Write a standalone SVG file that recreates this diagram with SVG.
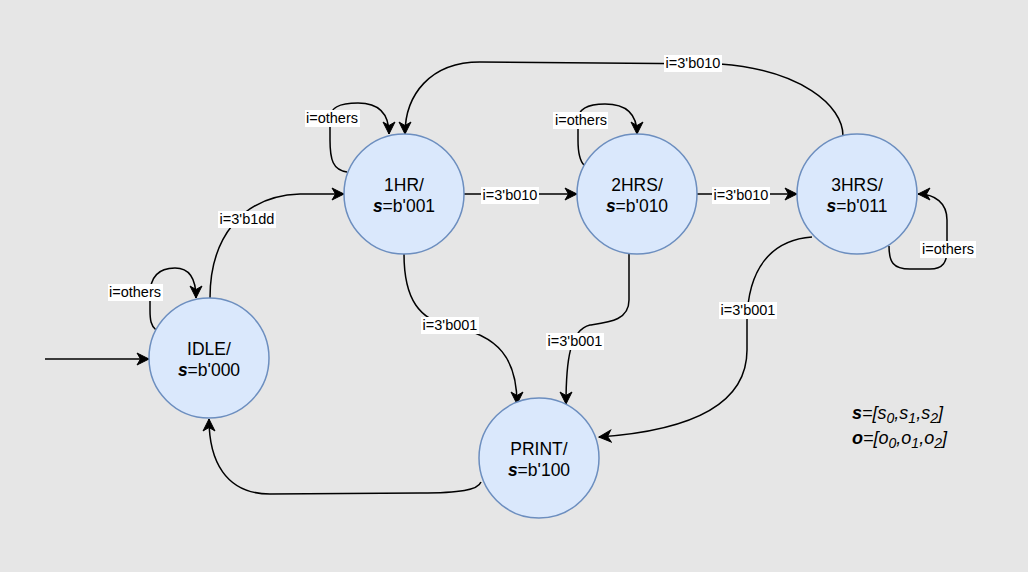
<svg xmlns="http://www.w3.org/2000/svg" width="1028" height="572" viewBox="0 0 1028 572">
<style>
.bg{fill:#e6e6e6}
.st circle{fill:#dae8fc;stroke:#6c8ebf;stroke-width:1.5}
.st text{font-family:"Liberation Sans",Arial,sans-serif;font-size:17.5px;fill:#000;text-anchor:middle}
.bi{font-weight:bold;font-style:italic}
.e{fill:none;stroke:#000;stroke-width:1.5}
.ea{marker-end:url(#arr)}
.lb rect{fill:#fff}
.lb text{font-family:"Liberation Sans",Arial,sans-serif;font-size:14.5px;fill:#000;text-anchor:middle}
.lg{font-family:"Liberation Sans",Arial,sans-serif;font-size:18px;font-style:italic;fill:#000}
.sub{font-size:14px}
</style>
<defs>
<marker id="arr" markerUnits="userSpaceOnUse" markerWidth="14" markerHeight="14" viewBox="0 0 14 14" refX="13" refY="7" orient="auto">
<path d="M1,1 L13,7 L1,13 L4.5,7 Z" fill="#000" stroke="#000" stroke-width="1"/>
</marker>
</defs>
<rect class="bg" x="0" y="0" width="1028" height="572"/>
<g id="connectors">
<path class="e ea" d="M45,359 L149,359"/>
<path class="e ea" d="M464,194 L577,194"/>
<path class="e ea" d="M697,194 L797,194"/>
<path class="e ea" d="M843,136 C843,105 800,70 720,64 L480,62 C430,62 405,95 405,134"/>
<path class="e ea" d="M347,172 C333,170 330,160 330,140 L330,118 C330,108 338,103 358,103 C378,103 389,112 389,134"/>
<path class="e ea" d="M584,165 C579,160 578,150 578,140 L578,120 C578,110 585,104 605,104 C628,104 637,115 637,134"/>
<path class="e ea" d="M889,246 C889,262 893,269 910,269 L930,269 C943,269 947,262 947,250 L947,220 C947,203 935,194 918,194"/>
<path class="e ea" d="M156,330 C151,326 150,320 150,310 L150,295 C150,277 158,268 175,268 C190,268 196,280 196,298"/>
<path class="e ea" d="M210,298 C210,240 240,196 300,194 L344,194"/>
<path class="e ea" d="M404,254 C404,300 420,320 450,326 C500,335 517,360 517,404"/>
<path class="e ea" d="M629,254 L629,300 C629,320 610,322 590,325 C570,330 566,360 566,404"/>
<path class="e ea" d="M812,237 C770,240 748,270 747,320 L747,350 C747,400 700,430 599,437"/>
<path class="e ea" d="M481,482 C478,490 460,493 420,493 L270,494 C225,494 209,460 209,419"/>
</g>
<g id="labels" class="lb">
<rect x="481" y="187" width="58" height="17"/><text x="510" y="200">i=3'b010</text>
<rect x="712" y="187" width="58" height="17"/><text x="741" y="200">i=3'b010</text>
<rect x="664" y="55" width="58" height="17"/><text x="693" y="68">i=3'b010</text>
<rect x="305" y="110" width="55" height="17"/><text x="332" y="123">i=others</text>
<rect x="553" y="112" width="55" height="17"/><text x="581" y="125">i=others</text>
<rect x="920" y="241" width="56" height="17"/><text x="948" y="254">i=others</text>
<rect x="108" y="284" width="55" height="17"/><text x="135" y="297">i=others</text>
<rect x="218" y="211" width="58" height="17"/><text x="247" y="224">i=3'b1dd</text>
<rect x="421" y="317" width="58" height="17"/><text x="450" y="330">i=3'b001</text>
<rect x="546" y="333" width="58" height="17"/><text x="575" y="346">i=3'b001</text>
<rect x="719" y="302" width="58" height="17"/><text x="748" y="315">i=3'b001</text>
</g>
<g id="idle" class="st"><circle cx="209" cy="358" r="60"/><text x="209" y="355">IDLE/</text><text x="209" y="376"><tspan class="bi">s</tspan>=b'000</text></g>
<g id="hr1" class="st"><circle cx="404" cy="194" r="60"/><text x="404" y="191">1HR/</text><text x="404" y="212"><tspan class="bi">s</tspan>=b'001</text></g>
<g id="hrs2" class="st"><circle cx="637" cy="194" r="60"/><text x="637" y="191">2HRS/</text><text x="637" y="212"><tspan class="bi">s</tspan>=b'010</text></g>
<g id="hrs3" class="st"><circle cx="857" cy="194" r="60"/><text x="857" y="191">3HRS/</text><text x="857" y="212"><tspan class="bi">s</tspan>=b'011</text></g>
<g id="print" class="st"><circle cx="539" cy="458" r="60"/><text x="539" y="455">PRINT/</text><text x="539" y="476"><tspan class="bi">s</tspan>=b'100</text></g>
<g id="legend">
<text class="lg" x="852" y="419"><tspan font-weight="bold">s</tspan>=[s<tspan class="sub" dy="4">0</tspan><tspan dy="-4">,s</tspan><tspan class="sub" dy="4">1</tspan><tspan dy="-4">,s</tspan><tspan class="sub" dy="4">2</tspan><tspan dy="-4">]</tspan></text>
<text class="lg" x="852" y="444"><tspan font-weight="bold">o</tspan>=[o<tspan class="sub" dy="4">0</tspan><tspan dy="-4">,o</tspan><tspan class="sub" dy="4">1</tspan><tspan dy="-4">,o</tspan><tspan class="sub" dy="4">2</tspan><tspan dy="-4">]</tspan></text>
</g>
</svg>
